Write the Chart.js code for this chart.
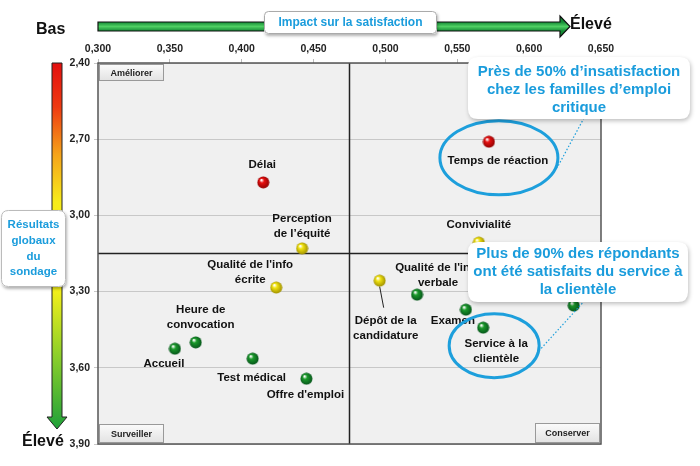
<!DOCTYPE html>
<html>
<head>
<meta charset="utf-8">
<script src="https://cdn.jsdelivr.net/npm/chart.js@4.4.1/dist/chart.umd.min.js"></script>
<style>
  html, body { margin: 0; padding: 0; background: #fff; }
  canvas { display: block; }
</style>
</head>
<body>
<canvas id="c" width="700" height="466"></canvas>
<script>
// --- données ---
const items = [
  ['Délai'], ['Temps de réaction'], ['Perception', 'de l’équité'], ["Qualité de l'info", 'écrite'],
  ['Convivialité'], ['Dépôt de la', 'candidature'], ["Qualité de l'info", 'verbale'], ['Examen'],
  ['Service à la', 'clientèle'], [], ['Accueil'], ['Heure de', 'convocation'], ['Test médical'], ["Offre d'emploi"]
];
const impact = [0.415, 0.572, 0.442, 0.424, 0.565, 0.496, 0.522, 0.556, 0.568, 0.631, 0.3535, 0.368, 0.4076, 0.445];
const score = [2.87, 2.71, 3.13, 3.284, 3.107, 3.257, 3.312, 3.371, 3.442, 3.355, 3.525, 3.50, 3.564, 3.643];
const level = ['rouge', 'rouge', 'jaune', 'jaune', 'jaune', 'jaune', 'vert', 'vert', 'vert', 'vert', 'vert', 'vert', 'vert', 'vert'];
const xTicks = [0.300, 0.350, 0.400, 0.450, 0.500, 0.550, 0.600, 0.650];
const yTicks = [2.40, 2.70, 3.00, 3.30, 3.60, 3.90];
const xSplit = 0.475;
const ySplit = 3.15;

// décalage des étiquettes (px) par rapport au point
const labelOffset = [[-1, -18], [9, 19], [0, -30], [-26, -23], [0, -18], [6, 40], [21, -27], [-13, 11],
  [13, 16], [0, 0], [-11, 15], [5, -33], [-1, 19], [-1, 16]];

const FONT = '"Liberation Sans", Arial, sans-serif';
const BLUE = '#1a9cdc';
Chart.defaults.font.family = FONT;

function sphere(base, dark) {
  const c = document.createElement('canvas');
  c.width = c.height = 13;
  const g = c.getContext('2d');
  const grad = g.createRadialGradient(4.5, 4, 0.5, 6.5, 6.5, 6.5);
  grad.addColorStop(0, '#ffffff');
  grad.addColorStop(0.3, base);
  grad.addColorStop(1, dark);
  g.fillStyle = grad;
  g.beginPath();
  g.arc(6.5, 6.5, 6, 0, Math.PI * 2);
  g.fill();
  return c;
}
const spheres = {
  rouge: sphere('#e81010', '#8a0000'),
  jaune: sphere('#f2e410', '#9a8a00'),
  vert: sphere('#1a9a2a', '#05501a')
};

function roundRect(ctx, x, y, w, h, r) {
  ctx.beginPath();
  ctx.moveTo(x + r, y);
  ctx.lineTo(x + w - r, y);
  ctx.quadraticCurveTo(x + w, y, x + w, y + r);
  ctx.lineTo(x + w, y + h - r);
  ctx.quadraticCurveTo(x + w, y + h, x + w - r, y + h);
  ctx.lineTo(x + r, y + h);
  ctx.quadraticCurveTo(x, y + h, x, y + h - r);
  ctx.lineTo(x, y + r);
  ctx.quadraticCurveTo(x, y, x + r, y);
  ctx.closePath();
}

function bubble(ctx, x, y, w, h, r, lines, size, lh, cy) {
  ctx.save();
  ctx.shadowColor = 'rgba(0,0,0,0.25)';
  ctx.shadowBlur = 4;
  ctx.shadowOffsetX = 1;
  ctx.shadowOffsetY = 2;
  roundRect(ctx, x, y, w, h, r);
  ctx.fillStyle = '#fff';
  ctx.fill();
  ctx.restore();
  ctx.save();
  ctx.fillStyle = BLUE;
  ctx.font = 'bold ' + size + 'px ' + FONT;
  ctx.textAlign = 'center';
  ctx.textBaseline = 'middle';
  lines.forEach((t, i) => ctx.fillText(t, x + w / 2, cy + i * lh));
  ctx.restore();
}

function button(ctx, x, y, w, h, text) {
  ctx.save();
  const g = ctx.createLinearGradient(0, y, 0, y + h);
  g.addColorStop(0, '#fbfbfb');
  g.addColorStop(1, '#e2e2e2');
  ctx.fillStyle = g;
  ctx.fillRect(x, y, w, h);
  ctx.strokeStyle = '#999';
  ctx.lineWidth = 1;
  ctx.strokeRect(x + 0.5, y + 0.5, w - 1, h - 1);
  ctx.fillStyle = '#222';
  ctx.font = 'bold 9px ' + FONT;
  ctx.textAlign = 'center';
  ctx.textBaseline = 'middle';
  ctx.fillText(text, x + w / 2, y + h / 2 + 1);
  ctx.restore();
}

const decor = {
  id: 'decor',
  beforeDraw(chart) {
    const { ctx, chartArea: a } = chart;
    ctx.save();
    ctx.fillStyle = '#f0f0f0';
    ctx.fillRect(a.left, a.top, a.right - a.left, a.bottom - a.top);
    ctx.restore();
  },
  beforeDatasetsDraw(chart) {
    const { ctx, chartArea: a, scales } = chart;
    const sx = scales.x.getPixelForValue(xSplit);
    const sy = scales.y.getPixelForValue(ySplit);
    ctx.save();
    ctx.strokeStyle = '#222';
    ctx.lineWidth = 1.5;
    ctx.beginPath();
    ctx.moveTo(sx, a.top); ctx.lineTo(sx, a.bottom);
    ctx.moveTo(a.left, sy); ctx.lineTo(a.right, sy);
    ctx.stroke();
    ctx.strokeStyle = '#555';
    ctx.lineWidth = 1.5;
    ctx.strokeRect(a.left, a.top, a.right - a.left, a.bottom - a.top);
    ctx.restore();
  },
  afterDatasetsDraw(chart) {
    const { ctx, chartArea: a, scales } = chart;
    const px = i => scales.x.getPixelForValue(impact[i]);
    const py = i => scales.y.getPixelForValue(score[i]);

    // étiquettes des points
    ctx.save();
    ctx.fillStyle = '#111';
    ctx.font = 'bold 11.5px ' + FONT;
    ctx.textAlign = 'center';
    ctx.textBaseline = 'middle';
    items.forEach((lines, i) => {
      const [dx, dy] = labelOffset[i];
      lines.forEach((t, k) => ctx.fillText(t, px(i) + dx, py(i) + dy + k * 15));
    });
    // trait de rappel pour Dépôt de la candidature
    ctx.strokeStyle = '#222';
    ctx.lineWidth = 1;
    ctx.beginPath();
    ctx.moveTo(px(5), py(5) + 6);
    ctx.lineTo(px(5) + 4, py(5) + 27);
    ctx.stroke();
    ctx.restore();

    // ellipses
    ctx.save();
    ctx.strokeStyle = '#1d9fdc';
    ctx.lineWidth = 3;
    ctx.beginPath();
    ctx.ellipse(px(1) + 10, py(1) + 16, 59, 37, 0, 0, Math.PI * 2);
    ctx.stroke();
    ctx.beginPath();
    ctx.ellipse(px(8) + 11, py(8) + 18, 45, 32, 0, 0, Math.PI * 2);
    ctx.stroke();
    // traits pointillés
    ctx.lineWidth = 1.2;
    ctx.setLineDash([1.5, 2]);
    ctx.beginPath();
    ctx.moveTo(584, 118); ctx.lineTo(557, 168);
    ctx.moveTo(587, 298); ctx.lineTo(537, 353);
    ctx.stroke();
    ctx.restore();

    // bulles
    bubble(ctx, 468, 57, 222, 62, 10, ['Près de 50% d’insatisfaction', 'chez les familles d’emploi', 'critique'], 15, 18, 72);
    bubble(ctx, 468, 242, 220, 60, 10, ['Plus de 90% des répondants', 'ont été satisfaits du service à', 'la clientèle'], 15, 18, 254);

    // boutons des quadrants
    button(ctx, a.left + 1, a.top + 1, 65, 17, 'Améliorer');
    button(ctx, a.left + 1, a.bottom - 20, 65, 19, 'Surveiller');
    button(ctx, a.right - 66, a.bottom - 21, 65, 20, 'Conserver');
  },
  afterDraw(chart) {
    const { ctx } = chart;
    ctx.save();
    // flèche horizontale verte
    let g = ctx.createLinearGradient(0, 22, 0, 31);
    g.addColorStop(0, '#138a34');
    g.addColorStop(0.5, '#4fd063');
    g.addColorStop(1, '#138a34');
    ctx.fillStyle = g;
    ctx.beginPath();
    ctx.moveTo(98, 22); ctx.lineTo(560, 22); ctx.lineTo(560, 16); ctx.lineTo(570, 26.5);
    ctx.lineTo(560, 37); ctx.lineTo(560, 31); ctx.lineTo(98, 31); ctx.closePath();
    ctx.fill();
    ctx.strokeStyle = '#111';
    ctx.lineWidth = 1.2;
    ctx.stroke();

    // flèche verticale dégradée
    g = ctx.createLinearGradient(0, 63, 0, 429);
    g.addColorStop(0, '#e30f0f');
    g.addColorStop(0.12, '#ee3a12');
    g.addColorStop(0.25, '#f5a31a');
    g.addColorStop(0.38, '#f7ec1a');
    g.addColorStop(0.62, '#f4f01a');
    g.addColorStop(0.8, '#8ccf2a');
    g.addColorStop(1, '#1fa03a');
    ctx.fillStyle = g;
    ctx.beginPath();
    ctx.moveTo(52, 63); ctx.lineTo(62, 63); ctx.lineTo(62, 417); ctx.lineTo(67, 417);
    ctx.lineTo(57, 429); ctx.lineTo(47, 417); ctx.lineTo(52, 417); ctx.closePath();
    ctx.fill();
    ctx.strokeStyle = '#222';
    ctx.lineWidth = 1;
    ctx.stroke();

    // textes Bas / Élevé
    ctx.fillStyle = '#111';
    ctx.font = 'bold 16px ' + FONT;
    ctx.textBaseline = 'middle';
    ctx.textAlign = 'left';
    ctx.fillText('Bas', 36, 30);
    ctx.fillText('Élevé', 570, 25);
    ctx.fillText('Élevé', 22, 442);
    ctx.restore();

    // cadre titre horizontal
    ctx.save();
    ctx.shadowColor = 'rgba(0,0,0,0.3)';
    ctx.shadowBlur = 3;
    ctx.shadowOffsetX = 1;
    ctx.shadowOffsetY = 2;
    roundRect(ctx, 264, 11, 173, 23, 4);
    ctx.fillStyle = '#fff';
    ctx.fill();
    ctx.restore();
    ctx.save();
    roundRect(ctx, 264.5, 11.5, 172, 22, 4);
    ctx.strokeStyle = '#aaa';
    ctx.lineWidth = 1;
    ctx.stroke();
    ctx.fillStyle = BLUE;
    ctx.font = 'bold 12px ' + FONT;
    ctx.textAlign = 'center';
    ctx.textBaseline = 'middle';
    ctx.fillText('Impact sur la satisfaction', 350.5, 23);
    ctx.restore();

    // cadre titre vertical
    ctx.save();
    ctx.shadowColor = 'rgba(0,0,0,0.3)';
    ctx.shadowBlur = 3;
    ctx.shadowOffsetX = 1;
    ctx.shadowOffsetY = 2;
    roundRect(ctx, 1, 210, 65, 77, 7);
    ctx.fillStyle = '#fff';
    ctx.fill();
    ctx.restore();
    ctx.save();
    roundRect(ctx, 1.5, 210.5, 64, 76, 7);
    ctx.strokeStyle = '#bbb';
    ctx.lineWidth = 1;
    ctx.stroke();
    ctx.fillStyle = BLUE;
    ctx.font = 'bold 11.5px ' + FONT;
    ctx.textAlign = 'center';
    ctx.textBaseline = 'middle';
    ['Résultats', 'globaux', 'du', 'sondage'].forEach((t, i) => ctx.fillText(t, 33.5, 225 + i * 15.7));
    ctx.restore();
  }
};

const fmt = (v, d) => v.toFixed(d).replace('.', ',');

new Chart(document.getElementById('c'), {
  type: 'scatter',
  data: {
    datasets: [{
      data: impact.map((x, i) => ({ x, y: score[i] })),
      pointStyle: ctx => spheres[level[ctx.dataIndex]],
      pointRadius: 6
    }]
  },
  options: {
    responsive: false,
    animation: false,
    layout: { padding: { left: 0, top: 0, right: 99, bottom: 22 } },
    plugins: { legend: { display: false }, tooltip: { enabled: false } },
    scales: {
      x: {
        type: 'linear',
        position: 'top',
        min: 0.3,
        max: 0.65,
        afterFit(s) { s.height = 63; },
        afterBuildTicks(s) { s.ticks = xTicks.map(v => ({ value: v })); },
        ticks: { color: '#222', padding: 4, font: { size: 10.5, weight: 'bold' }, callback: v => fmt(v, 3) },
        grid: { drawOnChartArea: false, tickLength: 4, color: '#bbb' },
        border: { display: false }
      },
      y: {
        type: 'linear',
        reverse: true,
        min: 2.4,
        max: 3.9,
        afterFit(s) { s.width = 98; },
        afterBuildTicks(s) { s.ticks = yTicks.map(v => ({ value: v })); },
        ticks: { color: '#222', padding: 4, font: { size: 10.5, weight: 'bold' }, callback: v => fmt(v, 2) },
        grid: { color: '#c8c8c8', tickLength: 4 },
        border: { display: false }
      }
    }
  },
  plugins: [decor]
});
</script>
</body>
</html>
